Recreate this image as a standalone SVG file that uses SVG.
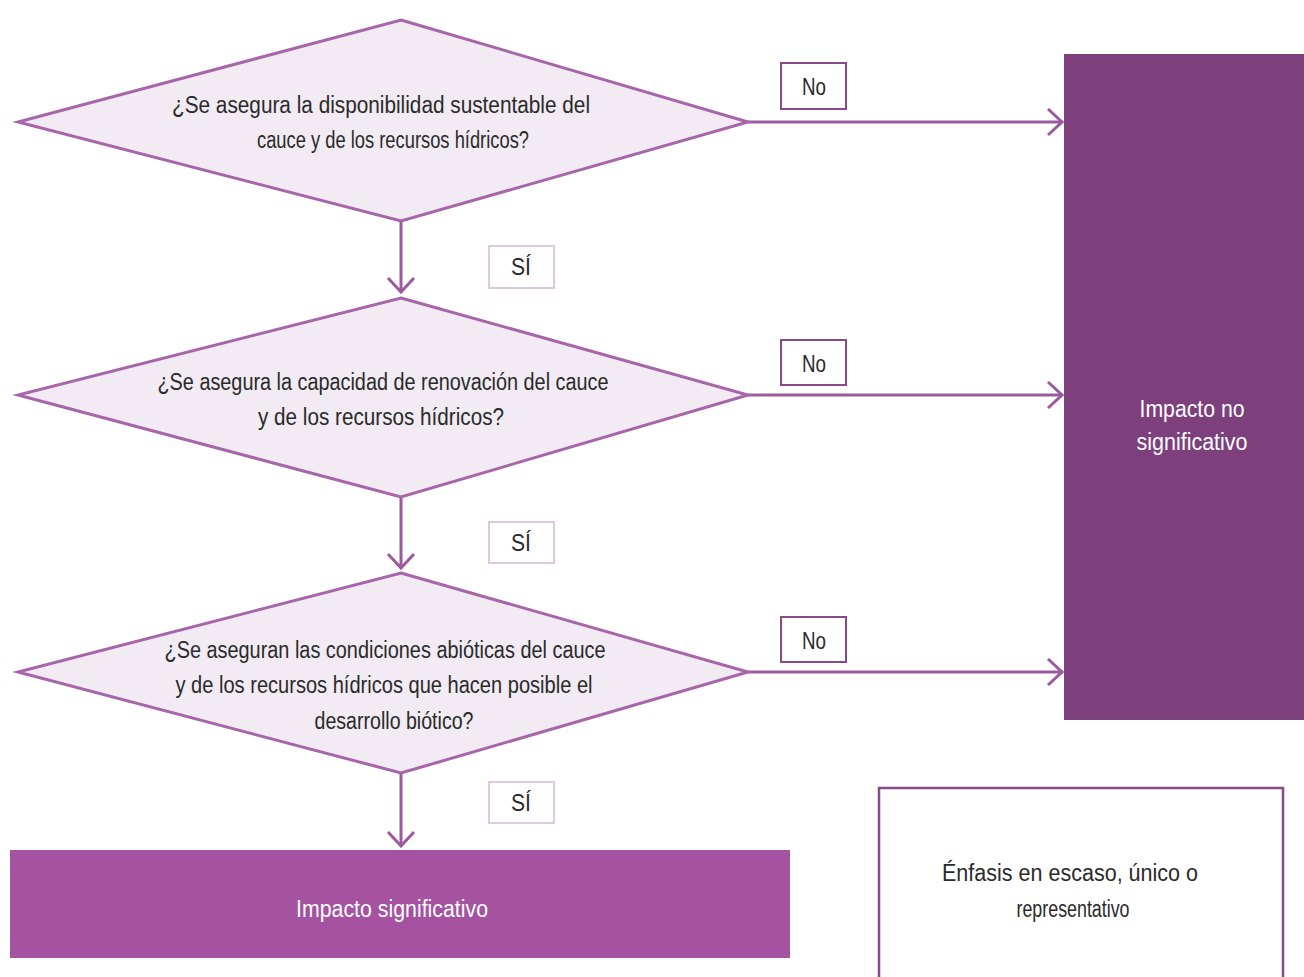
<svg xmlns="http://www.w3.org/2000/svg" width="1304" height="977" viewBox="0 0 1304 977">
<defs>
<marker id="arr" viewBox="0 0 18 30" refX="16" refY="15" markerWidth="18" markerHeight="30" markerUnits="userSpaceOnUse" orient="auto">
<path d="M2,2 L16,15 L2,28" fill="none" stroke="#9b5a9e" stroke-width="3"/>
</marker>
</defs>
<style>
.dia{fill:#f2ebf3;stroke:#a765aa;stroke-width:3}
.t{font-family:"Liberation Sans",Arial,sans-serif;font-size:23px;fill:#2a2a2a;text-anchor:middle}
.w{fill:#ffffff}
.lbl{fill:#ffffff;stroke:#8a4a8a;stroke-width:2}
.lbl2{fill:#ffffff;stroke:#e0c8e2;stroke-width:2}
.c{fill:none;stroke:#9b5a9e;stroke-width:3}
</style>
<rect width="1304" height="977" fill="#ffffff"/>
<g id="connectors">
<line class="c" x1="401" y1="221" x2="401" y2="292" marker-end="url(#arr)"/>
<line class="c" x1="401" y1="497" x2="401" y2="568" marker-end="url(#arr)"/>
<line class="c" x1="401" y1="773" x2="401" y2="846" marker-end="url(#arr)"/>
<line class="c" x1="748" y1="122" x2="1062" y2="122" marker-end="url(#arr)"/>
<line class="c" x1="748" y1="395" x2="1062" y2="395" marker-end="url(#arr)"/>
<line class="c" x1="748" y1="672" x2="1062" y2="672" marker-end="url(#arr)"/>
<g id="lbl-si1"><rect class="lbl2" x="489" y="246" width="65" height="42"/><text class="t" x="521" y="275" textLength="20" lengthAdjust="spacingAndGlyphs">SÍ</text></g>
<g id="lbl-si2"><rect class="lbl2" x="489" y="522" width="65" height="41"/><text class="t" x="521" y="551" textLength="20" lengthAdjust="spacingAndGlyphs">SÍ</text></g>
<g id="lbl-si3"><rect class="lbl2" x="489" y="782" width="65" height="41"/><text class="t" x="521" y="811" textLength="20" lengthAdjust="spacingAndGlyphs">SÍ</text></g>
<g id="lbl-no1"><rect class="lbl" x="781" y="63" width="65" height="46"/><text class="t" x="814" y="95" textLength="24" lengthAdjust="spacingAndGlyphs">No</text></g>
<g id="lbl-no2"><rect class="lbl" x="781" y="340" width="65" height="45"/><text class="t" x="814" y="372" textLength="24" lengthAdjust="spacingAndGlyphs">No</text></g>
<g id="lbl-no3"><rect class="lbl" x="781" y="617" width="65" height="45"/><text class="t" x="814" y="649" textLength="24" lengthAdjust="spacingAndGlyphs">No</text></g>
</g>
<g id="q1">
<polygon class="dia" points="401,20 748,122 401,221 18,122"/>
<text class="t" x="381" y="113" textLength="418" lengthAdjust="spacingAndGlyphs">¿Se asegura la disponibilidad sustentable del</text>
<text class="t" x="393" y="148" textLength="272" lengthAdjust="spacingAndGlyphs">cauce y de los recursos hídricos?</text>
</g>
<g id="q2">
<polygon class="dia" points="401,298 748,395 401,497 18,395"/>
<text class="t" x="383" y="390" textLength="451" lengthAdjust="spacingAndGlyphs">¿Se asegura la capacidad de renovación del cauce</text>
<text class="t" x="381" y="425" textLength="246" lengthAdjust="spacingAndGlyphs">y de los recursos hídricos?</text>
</g>
<g id="q3">
<polygon class="dia" points="401,573 748,672 401,773 18,672"/>
<text class="t" x="385" y="658" textLength="441" lengthAdjust="spacingAndGlyphs">¿Se aseguran las condiciones abióticas del cauce</text>
<text class="t" x="384" y="693" textLength="417" lengthAdjust="spacingAndGlyphs">y de los recursos hídricos que hacen posible el</text>
<text class="t" x="394" y="729" textLength="159" lengthAdjust="spacingAndGlyphs">desarrollo biótico?</text>
</g>
<g id="no-impact">
<rect x="1064" y="54" width="240" height="666" fill="#7e3f7d"/>
<text class="t w" x="1192" y="417" textLength="105" lengthAdjust="spacingAndGlyphs">Impacto no</text>
<text class="t w" x="1192" y="450" textLength="111" lengthAdjust="spacingAndGlyphs">significativo</text>
</g>
<g id="impact">
<rect x="10" y="850" width="780" height="108" fill="#a552a0"/>
<text class="t w" x="392" y="917" textLength="192" lengthAdjust="spacingAndGlyphs">Impacto significativo</text>
</g>
<g id="emphasis">
<rect x="879" y="788" width="404" height="200" fill="#ffffff" stroke="#8a4a8a" stroke-width="2.5"/>
<text class="t" x="1070" y="881" textLength="256" lengthAdjust="spacingAndGlyphs">Énfasis en escaso, único o</text>
<text class="t" x="1073" y="917" textLength="113" lengthAdjust="spacingAndGlyphs">representativo</text>
</g>
</svg>
